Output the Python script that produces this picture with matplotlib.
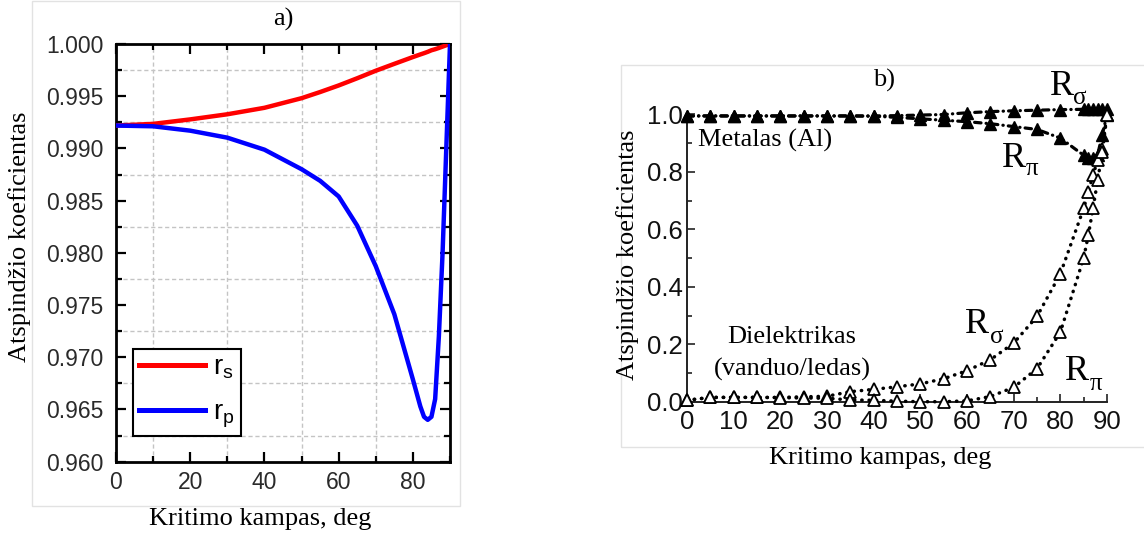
import matplotlib
matplotlib.use('Agg')
import matplotlib.pyplot as plt
from matplotlib.ticker import MultipleLocator, FormatStrFormatter
from matplotlib.patches import Rectangle

# ---------------- data: panel a) ----------------
angles_a = [0, 10, 20, 30, 40, 50, 55, 60, 65, 70, 75, 80, 82, 83, 84, 85, 86, 87, 88, 89, 90]
r_s = [0.99219, 0.99235, 0.99278, 0.99327, 0.99389, 0.99481, 0.99540, 0.99603, 0.99672, 0.99744,
       0.99810, 0.99875, 0.99900, 0.99912, 0.99925, 0.99940, 0.99950, 0.99962, 0.99975, 0.99988,
       1.00000]
r_p = [0.99219, 0.99212, 0.99170, 0.99103, 0.98988, 0.98801, 0.98690, 0.98540, 0.98260, 0.97872,
       0.97412, 0.96788, 0.96530, 0.96430, 0.96401, 0.96430, 0.96600, 0.97200, 0.98000, 0.99000,
       1.00000]
legend_labels = [r'$\mathregular{r_s}$', r'$\mathregular{r_p}$']

# ---------------- data: panel b) ----------------
angles_b = [0, 5, 10, 15, 20, 25, 30, 35, 40, 45, 50, 55, 60, 65, 70, 75, 80, 85, 86, 87, 88, 89, 90]
metal_R_sigma = [0.995, 0.995, 0.995, 0.995, 0.995, 0.995, 0.995, 0.995, 0.995, 0.996, 0.998, 1.000,
                 1.006, 1.010, 1.013, 1.015, 1.017, 1.018, 1.018, 1.018, 1.018, 1.018, 1.018]
metal_R_pi = [0.995, 0.995, 0.995, 0.995, 0.995, 0.995, 0.995, 0.995, 0.994, 0.990, 0.985, 0.980,
              0.975, 0.968, 0.958, 0.948, 0.918, 0.858, 0.850, 0.850, 0.860, 0.930, 1.000]
diel_R_sigma = [0.005, 0.015, 0.015, 0.015, 0.015, 0.017, 0.019, 0.035, 0.043, 0.052, 0.062, 0.080,
                0.108, 0.146, 0.204, 0.297, 0.445, 0.673, 0.730, 0.790, 0.840, 0.880, 1.000]
diel_R_pi = [0.005, 0.015, 0.015, 0.015, 0.014, 0.013, 0.012, 0.006, 0.005, 0.002, 0.000, 0.000,
             0.003, 0.018, 0.050, 0.115, 0.242, 0.500, 0.580, 0.673, 0.771, 0.870, 1.000]

W, H = 1144, 536
fig = plt.figure(figsize=(W / 100, H / 100), dpi=100)
fig.patch.set_facecolor('white')

SERIF = 'Liberation Serif'
SANS = 'Liberation Sans'


def fx(x):
    return x / W


def fy(y):
    return 1 - y / H


# faint panel frames
fig.patches.append(Rectangle((fx(31.7), fy(505.7)), (460 - 31.7) / W, (505.7 - 1) / H,
                             transform=fig.transFigure, fill=False, ec='#e2e2e2', lw=1))
fig.patches.append(Rectangle((fx(620.7), fy(446.7)), (1160 - 620.7) / W, (446.7 - 65) / H,
                             transform=fig.transFigure, fill=False, ec='#e2e2e2', lw=1))

# ================= panel a =================
ax1 = fig.add_axes([116 / W, fy(461.7), 334 / W, 417.7 / H])
ax1.plot(angles_a, r_s, color='#ff0000', lw=3.2, label=legend_labels[0], zorder=3)
ax1.plot(angles_a, r_p, color='#0000ff', lw=3.2, label=legend_labels[1], zorder=3)
ax1.set_xlim(0, 90)
ax1.set_ylim(0.960, 1.000)
ax1.xaxis.set_major_locator(MultipleLocator(20))
ax1.xaxis.set_minor_locator(MultipleLocator(10))
ax1.yaxis.set_major_locator(MultipleLocator(0.005))
ax1.yaxis.set_minor_locator(MultipleLocator(0.0025))
ax1.yaxis.set_major_formatter(FormatStrFormatter('%.3f'))
ax1.grid(False, which='major')
ax1.grid(True, which='minor', ls=(0, (3, 2)), color='#c4c4c4', lw=1)
ax1.tick_params(which='both', direction='in', top=True, right=True, width=1.6, color='black')
ax1.tick_params(which='major', length=7.5, labelsize=16.5, labelcolor='#2a2a2a')
ax1.tick_params(which='minor', length=4)
ax1.tick_params(axis='y', which='major', pad=9)
ax1.tick_params(axis='x', which='major', pad=7)
for lab in ax1.get_xticklabels() + ax1.get_yticklabels():
    lab.set_fontfamily(SANS)
for sp in ax1.spines.values():
    sp.set_linewidth(2)
leg = ax1.legend(loc='lower left', bbox_to_anchor=(0.052, 0.0615), borderaxespad=0,
                 prop={'family': SANS, 'size': 20}, handlelength=2.35, handletextpad=0.3,
                 labelspacing=0.65, borderpad=0.22, fancybox=False, framealpha=1)
leg.get_frame().set_edgecolor('black')
leg.get_frame().set_linewidth(1.5)
for line in leg.get_lines():
    line.set_linewidth(3.6)

fig.text(fx(283), fy(26), 'a)', family=SERIF, size=19, ha='center', va='baseline')
fig.text(fx(260), fy(525), 'Kritimo kampas, deg', family=SERIF, size=19, ha='center', va='baseline')
fig.text(fx(20), fy(237), 'Atspindžio koeficientas', family=SERIF, size=19, ha='center',
         va='center', rotation=90)

# ================= panel b =================
ax2 = fig.add_axes([687 / W, fy(401.7), 420 / W, 287.2 / H])
dot = (0, (0.1, 2.0))
dashdot = (0, (2.0, 1.6, 0.1, 1.6))
ax2.plot(angles_b, metal_R_sigma, color='black', lw=2.3, ls=dashdot, dash_capstyle='round',
         clip_on=False, zorder=3)
ax2.plot(angles_b, metal_R_pi, color='black', lw=2.3, ls=dashdot, dash_capstyle='round',
         clip_on=False, zorder=3)
ax2.plot(angles_b, diel_R_sigma, color='black', lw=2.5, ls=dot, dash_capstyle='round',
         clip_on=False, zorder=3)
ax2.plot(angles_b, diel_R_pi, color='black', lw=2.5, ls=dot, dash_capstyle='round',
         clip_on=False, zorder=3)
for series in (metal_R_sigma, metal_R_pi):
    ax2.plot(angles_b, series, ls='none', marker='^', ms=8.5, color='black', clip_on=False, zorder=4)
for series in (diel_R_sigma, diel_R_pi):
    ax2.plot(angles_b, series, ls='none', marker='^', ms=8.5, mfc='white', mec='black', mew=1.3,
             clip_on=False, zorder=4)
ax2.set_xlim(0, 90)
ax2.set_ylim(0, 1.0)
ax2.xaxis.set_major_locator(MultipleLocator(10))
ax2.xaxis.set_minor_locator(MultipleLocator(5))
ax2.yaxis.set_major_locator(MultipleLocator(0.2))
ax2.yaxis.set_minor_locator(MultipleLocator(0.1))
ax2.yaxis.set_major_formatter(FormatStrFormatter('%.1f'))
ax2.spines['top'].set_visible(False)
ax2.spines['right'].set_visible(False)
for sp in ('left', 'bottom'):
    ax2.spines[sp].set_linewidth(1.4)
    ax2.spines[sp].set_color('#222222')
ax2.tick_params(which='both', direction='in', width=1.2, color='#222222')
ax2.tick_params(which='major', length=6, labelsize=18.5, labelcolor='#111111')
ax2.tick_params(which='minor', length=3.5)
ax2.tick_params(axis='y', which='major', pad=3)
ax2.tick_params(axis='x', which='major', pad=6)
for lab in ax2.get_xticklabels() + ax2.get_yticklabels():
    lab.set_fontfamily(SANS)

fig.text(fx(884), fy(87), 'b)', family=SERIF, size=19, ha='center', va='baseline')
fig.text(fx(880), fy(464), 'Kritimo kampas, deg', family=SERIF, size=19, ha='center', va='baseline')
fig.text(fx(628), fy(255), 'Atspindžio koeficientas', family=SERIF, size=19, ha='center',
         va='center', rotation=90)
fig.text(fx(698), fy(146.7), 'Metalas (Al)', family=SERIF, size=19, ha='left', va='baseline')
fig.text(fx(792), fy(343), 'Dielektrikas', family=SERIF, size=19, ha='center', va='baseline')
fig.text(fx(792), fy(376), '(vanduo/ledas)', family=SERIF, size=19, ha='center', va='baseline')


def r_label(x, y, sub, sx, sy):
    fig.text(fx(x), fy(y), 'R', family=SERIF, size=26, ha='left', va='baseline')
    fig.text(fx(sx), fy(sy), sub, family=SERIF, size=18, ha='left', va='baseline')


r_label(1050, 95, 'σ', 1073, 104)
r_label(1001.7, 166.7, 'π', 1026, 175)
r_label(965, 333, 'σ', 990, 343)
r_label(1065, 380, 'π', 1090, 390)

fig.savefig('out.png', dpi=100, facecolor='white')
